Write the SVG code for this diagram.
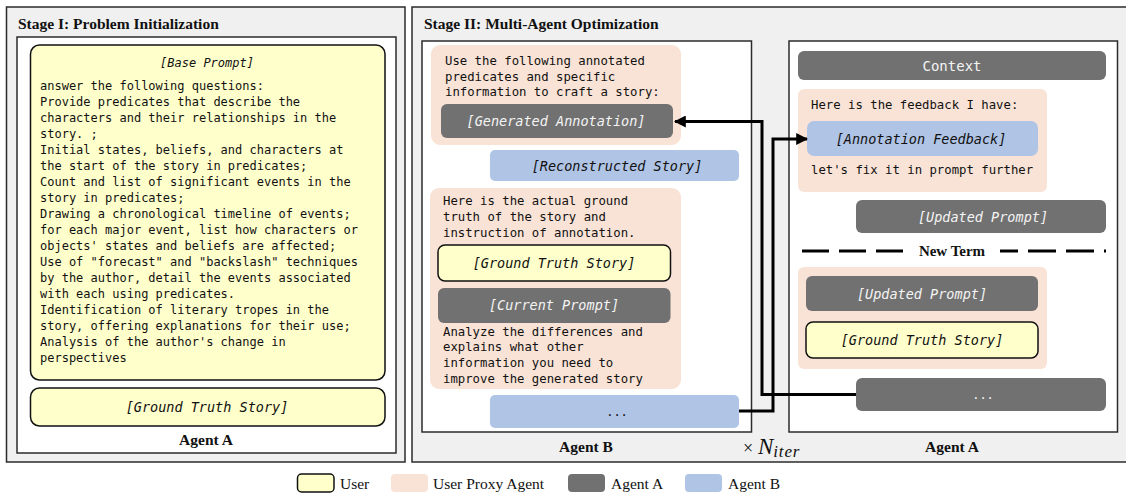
<svg xmlns="http://www.w3.org/2000/svg" width="1126" height="495" viewBox="0 0 1126 495">
<defs>
<style>
.stage{fill:#f0f0f0;stroke:#2b2b2b;stroke-width:1.5}
.panel{fill:#ffffff;stroke:#2b2b2b;stroke-width:1.5}
.user{fill:#ffffcc;stroke:#111;stroke-width:1.5}
.proxy{fill:#f9e3d6}
.agA{fill:#717171}
.agB{fill:#b0c4e5}
.mono{font-family:"DejaVu Sans Mono","Liberation Mono",monospace;font-size:12px;fill:#111}
.body{font-size:12.3px}
.lbl{font-size:13.5px}
.it{font-style:italic}
.wt{fill:#f4f4f4}
.ttl{font-family:"Liberation Serif","Times New Roman",serif;font-weight:bold;font-size:15.5px;fill:#111}
.lg{font-family:"Liberation Serif","Times New Roman",serif;font-size:15.5px;fill:#111}
.conn{fill:none;stroke:#000;stroke-width:3}
</style>
<marker id="ah" viewBox="0 0 10 10" refX="9" refY="5" markerWidth="4" markerHeight="4" orient="auto" markerUnits="strokeWidth">
<path d="M0,0 L10,5 L0,10 z" fill="#000"/>
</marker>
</defs>
<rect width="1126" height="495" fill="#ffffff"/>

<g id="stage1">
<rect class="stage" x="6.5" y="7" width="398.5" height="455"/>
<text class="ttl" x="18" y="29">Stage I: Problem Initialization</text>
<rect class="panel" x="17" y="37" width="379" height="416"/>
<text class="ttl" x="206" y="445" text-anchor="middle">Agent A</text>
</g>

<g id="base-prompt">
<rect class="user" x="30.5" y="45" width="354.5" height="335" rx="9"/>
<text class="mono it" x="207" y="67" text-anchor="middle">[Base Prompt]</text>
<text class="mono" x="40">
<tspan x="40" y="90">answer the following questions:</tspan>
<tspan x="40" y="106">Provide predicates that describe the</tspan>
<tspan x="40" y="122">characters and their relationships in the</tspan>
<tspan x="40" y="138">story. ;</tspan>
<tspan x="40" y="154">Initial states, beliefs, and characters at</tspan>
<tspan x="40" y="170">the start of the story in predicates;</tspan>
<tspan x="40" y="186">Count and list of significant events in the</tspan>
<tspan x="40" y="202">story in predicates;</tspan>
<tspan x="40" y="218">Drawing a chronological timeline of events;</tspan>
<tspan x="40" y="234">for each major event, list how characters or</tspan>
<tspan x="40" y="250">objects' states and beliefs are affected;</tspan>
<tspan x="40" y="266">Use of "forecast" and "backslash" techniques</tspan>
<tspan x="40" y="282">by the author, detail the events associated</tspan>
<tspan x="40" y="298">with each using predicates.</tspan>
<tspan x="40" y="314">Identification of literary tropes in the</tspan>
<tspan x="40" y="330">story, offering explanations for their use;</tspan>
<tspan x="40" y="346">Analysis of the author's change in</tspan>
<tspan x="40" y="362">perspectives</tspan>
</text>
</g>

<g id="gt-story-1">
<rect class="user" x="30.5" y="388" width="354.5" height="38" rx="9"/>
<text class="mono lbl it" x="207" y="411.5" text-anchor="middle">[Ground Truth Story]</text>
</g>

<g id="stage2">
<rect class="stage" x="412" y="7" width="720" height="455"/>
<text class="ttl" x="424" y="29">Stage II: Multi-Agent Optimization</text>
<rect class="panel" x="422" y="41" width="329.5" height="391"/>
<rect class="panel" x="789" y="41" width="328.5" height="391"/>
<text class="ttl" x="586" y="452" text-anchor="middle">Agent B</text>
<text class="ttl" x="952" y="452" text-anchor="middle">Agent A</text>
<text x="743" y="454" font-family="Liberation Serif,serif" font-size="18" fill="#111">×<tspan x="758" font-style="italic" font-size="23">N</tspan><tspan font-style="italic" font-size="17" dy="3" letter-spacing="0.8">iter</tspan></text>
</g>

<g id="b-proxy-1">
<rect class="proxy" x="431" y="45" width="250" height="100" rx="9"/>
<text class="mono body">
<tspan x="445" y="65">Use the following annotated</tspan>
<tspan x="445" y="81">predicates and specific</tspan>
<tspan x="445" y="96">information to craft a story:</tspan>
</text>
</g>
<g id="generated-annotation">
<rect class="agA" x="441" y="104" width="232" height="34" rx="6"/>
<text class="mono lbl it wt" x="556" y="126" text-anchor="middle">[Generated Annotation]</text>
</g>
<g id="reconstructed-story">
<rect class="agB" x="490" y="150" width="249" height="31" rx="5"/>
<text class="mono lbl it" x="617" y="170.5" text-anchor="middle">[Reconstructed Story]</text>
</g>
<g id="b-proxy-2">
<rect class="proxy" x="430" y="188" width="251" height="201" rx="9"/>
<text class="mono body">
<tspan x="443" y="205">Here is the actual ground</tspan>
<tspan x="443" y="221">truth of the story and</tspan>
<tspan x="443" y="237">instruction of annotation.</tspan>
<tspan x="443" y="336">Analyze the differences and</tspan>
<tspan x="443" y="351">explains what other</tspan>
<tspan x="443" y="367">information you need to</tspan>
<tspan x="443" y="383">improve the generated story</tspan>
</text>
</g>
<g id="gt-story-2">
<rect class="user" x="438" y="245" width="232.5" height="36" rx="7"/>
<text class="mono lbl it" x="554" y="268" text-anchor="middle">[Ground Truth Story]</text>
</g>
<g id="current-prompt">
<rect class="agA" x="438" y="288" width="232.5" height="35" rx="6"/>
<text class="mono lbl it wt" x="554" y="310" text-anchor="middle">[Current Prompt]</text>
</g>
<g id="b-ellipsis">
<rect class="agB" x="490" y="395" width="249" height="33" rx="5"/>
<text class="mono" x="617" y="416" text-anchor="middle">...</text>
</g>

<g id="context">
<rect class="agA" x="798" y="51" width="308" height="29" rx="6"/>
<text class="mono wt" x="952" y="71" text-anchor="middle" style="font-size:14px">Context</text>
</g>
<g id="a-proxy-1">
<rect class="proxy" x="798" y="89" width="249" height="103" rx="6"/>
<text class="mono body">
<tspan x="811" y="109">Here is the feedback I have:</tspan>
<tspan x="811" y="174">let's fix it in prompt further</tspan>
</text>
</g>
<g id="annotation-feedback">
<rect class="agB" x="807" y="121" width="231" height="35" rx="7"/>
<text class="mono lbl it" x="921" y="143.5" text-anchor="middle">[Annotation Feedback]</text>
</g>
<g id="updated-prompt-1">
<rect class="agA" x="856" y="200" width="250" height="33" rx="6"/>
<text class="mono lbl it wt" x="983" y="221.5" text-anchor="middle">[Updated Prompt]</text>
</g>
<g id="new-term">
<line x1="802" y1="251" x2="905" y2="251" stroke="#000" stroke-width="3" stroke-dasharray="27,10"/>
<line x1="1000" y1="251" x2="1106" y2="251" stroke="#000" stroke-width="3" stroke-dasharray="18,10,28,10,28,10"/>
<text class="ttl" x="952" y="256" text-anchor="middle" style="font-size:15px">New Term</text>
</g>
<g id="a-proxy-2">
<rect class="proxy" x="798" y="267" width="249" height="102" rx="6"/>
</g>
<g id="updated-prompt-2">
<rect class="agA" x="806" y="276" width="232" height="35" rx="6"/>
<text class="mono lbl it wt" x="922" y="298.5" text-anchor="middle">[Updated Prompt]</text>
</g>
<g id="gt-story-3">
<rect class="user" x="806" y="322" width="232" height="36" rx="7"/>
<text class="mono lbl it" x="922" y="344.5" text-anchor="middle">[Ground Truth Story]</text>
</g>
<g id="a-ellipsis">
<rect class="agA" x="856" y="378" width="250" height="33" rx="6"/>
<text class="mono wt" x="983" y="399" text-anchor="middle">...</text>
</g>

<g id="connectors">
<path class="conn" d="M856,394.5 H762 V121.5 H675" marker-end="url(#ah)"/>
<path class="conn" d="M739,411 H773 V139 H807" marker-end="url(#ah)"/>
</g>

<g id="legend">
<rect class="user" x="297.5" y="474" width="36.5" height="18" rx="4"/>
<text class="lg" x="340" y="489">User</text>
<rect class="proxy" x="391" y="474" width="37" height="18" rx="4"/>
<text class="lg" x="433" y="489">User Proxy Agent</text>
<rect class="agA" x="568" y="474" width="37" height="18" rx="4"/>
<text class="lg" x="611" y="489">Agent A</text>
<rect class="agB" x="685" y="474" width="37" height="18" rx="4"/>
<text class="lg" x="728" y="489">Agent B</text>
</g>
</svg>
